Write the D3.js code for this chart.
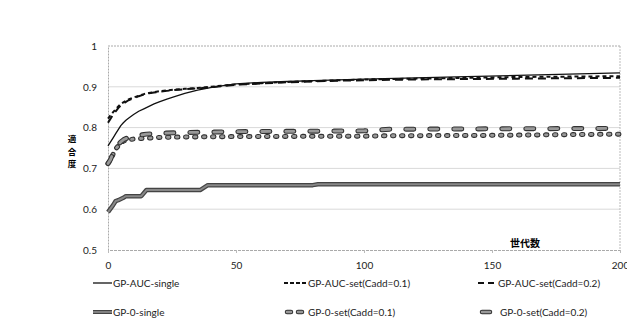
<!DOCTYPE html>
<html><head><meta charset="utf-8">
<script src="https://cdn.jsdelivr.net/npm/d3@7"></script>
<style>body{margin:0;background:#fff}svg text{font-family:Lato,"Open Sans",sans-serif}</style>
</head><body><svg id="c" width="627" height="327"></svg>
<script>
const xTicks=[0,50,100,150,200];
const yTicks=[0.5,0.6,0.7,0.8,0.9,1];
const yTickLabels=["0.5","0.6","0.7","0.8","0.9","1"];
const gensA=[0,1,2,3,4,5,6,7,8,10,12,14,16,18,20,23,26,30,35,40,45,50,60,70,80,90,100,120,140,160,180,200];
const aucSingle=[0.755,0.765,0.775,0.785,0.795,0.805,0.812,0.818,0.823,0.832,0.840,0.846,0.852,0.858,0.863,0.870,0.876,0.884,0.892,0.898,0.903,0.907,0.911,0.913,0.915,0.917,0.919,0.922,0.925,0.928,0.931,0.934];
const aucSet01=[0.822,0.830,0.838,0.845,0.852,0.858,0.862,0.866,0.869,0.874,0.878,0.882,0.885,0.887,0.889,0.891,0.893,0.895,0.897,0.900,0.903,0.906,0.909,0.912,0.914,0.916,0.918,0.920,0.922,0.924,0.925,0.926];
const aucSet02=[0.812,0.822,0.832,0.840,0.848,0.854,0.859,0.863,0.867,0.872,0.877,0.881,0.884,0.886,0.888,0.890,0.892,0.894,0.896,0.899,0.902,0.905,0.908,0.911,0.913,0.915,0.916,0.918,0.919,0.920,0.921,0.922];
const gensZ=[0,2,3,4,6,7,13,15,36,39,80,82,200];
const zeroSingle=[0.593,0.610,0.620,0.622,0.628,0.632,0.632,0.647,0.647,0.659,0.659,0.661,0.661];
const gensS=[0,1,2,3,4,5,6,8,10,12,15,20,30,50,100,110,150,200];
const zeroSet01=[0.712,0.720,0.735,0.748,0.755,0.762,0.767,0.770,0.772,0.773,0.774,0.776,0.777,0.778,0.779,0.780,0.781,0.784];
const zeroSet02=[0.712,0.722,0.738,0.750,0.758,0.765,0.770,0.776,0.779,0.781,0.784,0.786,0.788,0.790,0.792,0.796,0.797,0.798];
const names=["GP-AUC-single","GP-AUC-set(Cadd=0.1)","GP-AUC-set(Cadd=0.2)","GP-0-single","GP-0-set(Cadd=0.1)","GP-0-set(Cadd=0.2)"];
const yTitle=["適","合","度"];

const svg=d3.select("#c");
const x=d3.scaleLinear().domain([0,200]).range([108,620]);
const y=d3.scaleLinear().domain([0.5,1]).range([250,46]);

svg.append("g").selectAll("line").data([0.6,0.7,0.8,0.9]).join("line")
 .attr("x1",x(0)).attr("x2",x(200)).attr("y1",d=>y(d)).attr("y2",d=>y(d))
 .attr("stroke","#d9d9d9").attr("stroke-width",1);
svg.append("line").attr("x1",x(0)).attr("x2",x(200)).attr("y1",y(1)).attr("y2",y(1)).attr("stroke","#aaa").attr("stroke-dasharray","2,1");
svg.append("line").attr("x1",x(200)).attr("x2",x(200)).attr("y1",y(1)).attr("y2",y(0.5)).attr("stroke","#bbb").attr("stroke-dasharray","2,1");

const yAxis=d3.axisLeft(y).tickValues(yTicks).tickFormat((d,i)=>yTickLabels[i]).tickSize(0).tickPadding(11);
const gy=svg.append("g").attr("transform",`translate(${x(0)},0)`).call(yAxis);
gy.select(".domain").attr("stroke","#aaa").attr("stroke-dasharray","2,1");
gy.selectAll("text").attr("font-size",10).attr("fill","#222");
const xAxis=d3.axisBottom(x).tickValues(xTicks).tickSize(3).tickPadding(9);
const gx=svg.append("g").attr("transform",`translate(0,${y(0.5)})`).call(xAxis);
gx.select(".domain").attr("stroke","#aaa").attr("stroke-dasharray","3,1");
gx.selectAll(".tick line").attr("stroke","#bbb");
gx.selectAll("text").attr("font-size",10).attr("fill","#222");

svg.append("text").attr("x",525).attr("y",247).attr("text-anchor","middle").attr("font-size",10).attr("font-weight","bold")
 .style("font-family","'Noto Sans CJK JP'").text("世代数");
svg.selectAll("text.yt").data(yTitle).join("text").attr("class","yt")
 .attr("x",72).attr("y",(d,i)=>142+i*12.5).attr("text-anchor","middle").attr("font-size",8.5).attr("font-weight","bold")
 .style("font-family","'Noto Sans CJK JP'").text(d=>d);

const line=d3.line().x(d=>x(d[0])).y(d=>y(d[1]));
const zip=(g,v)=>g.map((gg,i)=>[gg,v[i]]);

const styles=[
 [{stroke:"#111",w:1.3,dash:null}],
 [{stroke:"#111",w:2,dash:"4,3"}],
 [{stroke:"#111",w:2,dash:"8,5"}],
 [{stroke:"#444",w:4.5,dash:null},{stroke:"#888",w:2,dash:null}],
 [{stroke:"#333",w:5,dash:"1.5,7.5",cap:"round"},{stroke:"#999",w:2.8,dash:"1.5,7.5",cap:"round"}],
 [{stroke:"#333",w:5,dash:"8,16",cap:"round"},{stroke:"#999",w:2.8,dash:"8,16",cap:"round"}]
];
const series=[zip(gensA,aucSingle),zip(gensA,aucSet01),zip(gensA,aucSet02),zip(gensZ,zeroSingle),zip(gensS,zeroSet01),zip(gensS,zeroSet02)];
const order=[3,4,5,2,1,0];
order.forEach(i=>{
 styles[i].forEach(s=>{
  svg.append("path").datum(series[i]).attr("d",line).attr("fill","none")
   .attr("stroke",s.stroke).attr("stroke-width",s.w).attr("stroke-dasharray",s.dash)
   .attr("stroke-linecap",s.cap||"butt").attr("stroke-linejoin","round");
 });
});

const leg=[
 {i:0,x1:93,x2:112,tx:113,ty:283},
 {i:1,x1:284,x2:307,tx:308,ty:283},
 {i:2,x1:478,x2:497,tx:498,ty:283},
 {i:3,x1:93,x2:112,tx:113,ty:312},
 {i:4,x1:287,x2:306,tx:308,ty:312},
 {i:5,x1:482,x2:490,tx:500,ty:312}
];
const legDash=[null,"4,2","6,4",null,"4,7",null];
leg.forEach(l=>{
 styles[l.i].forEach(s=>{
  svg.append("line").attr("x1",l.x1).attr("x2",l.x2).attr("y1",l.ty).attr("y2",l.ty)
   .attr("stroke",s.stroke).attr("stroke-width",s.w*(l.i>=3?0.9:1)).attr("stroke-dasharray",legDash[l.i])
   .attr("stroke-linecap",s.cap||"butt");
 });
 svg.append("text").attr("x",l.tx).attr("y",l.ty+3.5).attr("font-size",10).attr("fill","#222").text(names[l.i]);
});
</script></body></html>
